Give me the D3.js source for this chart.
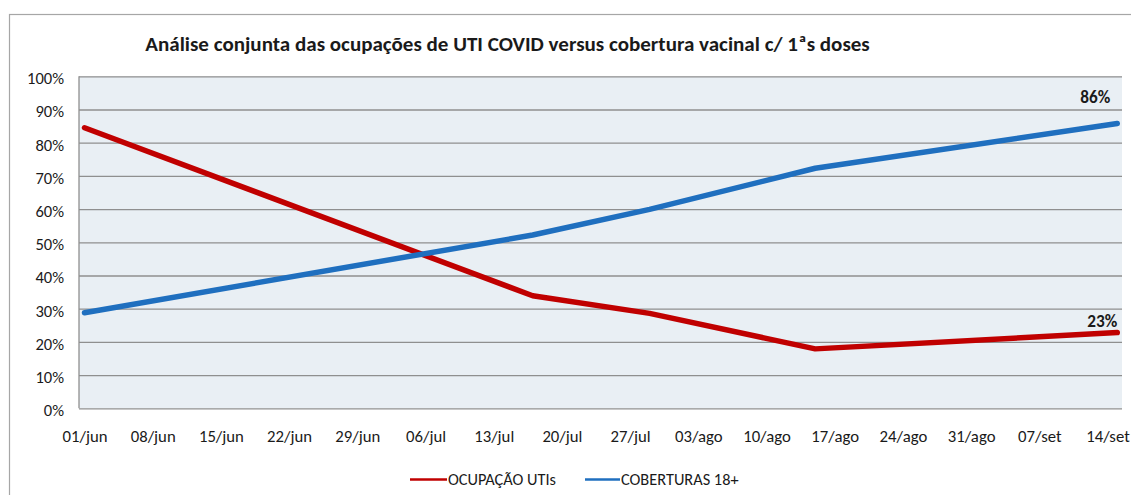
<!DOCTYPE html>
<html>
<head>
<meta charset="utf-8">
<script src="https://cdn.jsdelivr.net/npm/d3@7"></script>
<style>
  html, body { margin: 0; padding: 0; background: #ffffff; }
  svg { display: block; }
  text { font-family: Carlito, Calibri, Lato, "Open Sans", sans-serif; fill: #1a1a1a; }
</style>
</head>
<body>
<svg id="chart" width="1131" height="495"></svg>
<script>
// ---- data ----
const titleText = "Análise conjunta das ocupações de UTI COVID versus cobertura vacinal c/ 1ªs doses";
const seriesNames = ["OCUPAÇÃO UTIs", "COBERTURAS 18+"];
const pointDates = ["01/jun", "17/jul", "29/jul", "15/ago", "15/set"];
const ocupacaoUTIs = [84.5, 33.9, 28.6, 17.9, 22.8];
const coberturas18 = [28.8, 52.2, 59.9, 72.3, 85.8];
const xTickLabels = ["01/jun","08/jun","15/jun","22/jun","29/jun","06/jul","13/jul","20/jul",
                     "27/jul","03/ago","10/ago","17/ago","24/ago","31/ago","07/set","14/set"];
const yTickValues = [0,10,20,30,40,50,60,70,80,90,100];
const endLabels = ["23%", "86%"];
const seriesColors = ["#c00000", "#1f6fbf"];

// ---- helpers ----
const monthIdx = { jun: 5, jul: 6, ago: 7, set: 8 };
function parseDM(s) {
  const [d, m] = s.split("/");
  return new Date(2021, monthIdx[m], +d);
}

const svg = d3.select("#chart");

// font size that makes `sample` about `target` px wide
function fitSize(sample, target, weight) {
  const t = svg.append("text").style("font-size", "20px")
    .style("font-weight", weight || "normal").text(sample);
  const w = t.node().getComputedTextLength();
  t.remove();
  return 20 * target / w;
}
const yFont = fitSize("100%", 37, "normal");
const xFont = fitSize("01/jun", 45, "normal");
const legFont = fitSize("OCUPAÇÃO UTIs", 108, "normal");
const lblFont = fitSize("86%", 30, "bold");
const titleFont = fitSize(titleText, 725, "bold");

// outer chart frame
svg.append("rect")
  .attr("x", 9.5).attr("y", 14.5).attr("width", 1140).attr("height", 500)
  .attr("fill", "#ffffff").attr("stroke", "#a6a6a6").attr("stroke-width", 1.2);

// plot area
const plot = { left: 79, right: 1122, top: 76.3, bottom: 408.3 };

const x = d3.scaleTime()
  .domain([parseDM("01/jun"), parseDM("15/set")])
  .range([84.5, 84.5 + 106 * 9.743]);
const y = d3.scaleLinear().domain([0, 100]).range([plot.bottom, plot.top]);

svg.append("rect")
  .attr("x", plot.left).attr("y", plot.top)
  .attr("width", plot.right - plot.left).attr("height", plot.bottom - plot.top)
  .attr("fill", "#e9eff4");

// gridlines via axis
const yGrid = svg.append("g")
  .attr("transform", `translate(${plot.left},0)`)
  .call(d3.axisRight(y).tickValues(yTickValues).tickSize(plot.right - plot.left).tickFormat(""));
yGrid.select(".domain").remove();
yGrid.selectAll("line").attr("stroke", "#8f8f8f").attr("stroke-width", 1.3);

// left axis line
svg.append("line")
  .attr("x1", plot.left).attr("x2", plot.left)
  .attr("y1", plot.top).attr("y2", plot.bottom)
  .attr("stroke", "#8f8f8f").attr("stroke-width", 1.3);

// y axis labels
const yAxis = svg.append("g")
  .attr("transform", `translate(${plot.left - 15},0)`)
  .call(d3.axisLeft(y).tickValues(yTickValues).tickSize(0).tickFormat(d => d + "%"));
yAxis.select(".domain").remove();
yAxis.selectAll("text")
  .attr("x", 0).attr("dy", "0.45em")
  .style("font-size", yFont + "px").style("fill", "#1a1a1a");

// x axis labels
const xAxis = svg.append("g")
  .attr("transform", `translate(0,441.5)`)
  .call(d3.axisBottom(x).tickValues(xTickLabels.map(parseDM)).tickSize(0)
        .tickFormat((d, i) => xTickLabels[i]));
xAxis.select(".domain").remove();
xAxis.selectAll("text")
  .attr("y", 0).attr("dy", "0")
  .style("font-size", xFont + "px").style("fill", "#1a1a1a");

// lines
const allSeries = [ocupacaoUTIs, coberturas18];
const line = d3.line()
  .x((d, i) => x(parseDM(pointDates[i])))
  .y(d => y(d));
allSeries.forEach((vals, k) => {
  svg.append("path")
    .datum(vals)
    .attr("d", line)
    .attr("fill", "none")
    .attr("stroke", seriesColors[k])
    .attr("stroke-width", 5.5)
    .attr("stroke-linejoin", "round")
    .attr("stroke-linecap", "round");
});

// end labels
const lastIdx = pointDates.length - 1;
svg.append("text")
  .attr("x", x(parseDM(pointDates[lastIdx])) - 15)
  .attr("y", y(ocupacaoUTIs[lastIdx]) - 6)
  .attr("text-anchor", "middle")
  .style("font-size", lblFont + "px").style("font-weight", "bold")
  .text(endLabels[0]);
svg.append("text")
  .attr("x", x(parseDM(pointDates[lastIdx])) - 22)
  .attr("y", y(coberturas18[lastIdx]) - 20)
  .attr("text-anchor", "middle")
  .style("font-size", lblFont + "px").style("font-weight", "bold")
  .text(endLabels[1]);

// title
svg.append("text")
  .attr("x", 507.5).attr("y", 51)
  .attr("text-anchor", "middle")
  .style("font-size", titleFont + "px").style("font-weight", "bold")
  .text(titleText);

// legend
const legendItems = [
  { x1: 410, x2: 447, tx: 448, name: seriesNames[0], color: seriesColors[0] },
  { x1: 585, x2: 620, tx: 621, name: seriesNames[1], color: seriesColors[1] }
];
legendItems.forEach(it => {
  svg.append("line")
    .attr("x1", it.x1).attr("x2", it.x2).attr("y1", 479.5).attr("y2", 479.5)
    .attr("stroke", it.color).attr("stroke-width", 2.5);
  svg.append("text")
    .attr("x", it.tx).attr("y", 485)
    .style("font-size", legFont + "px")
    .text(it.name);
});
</script>
</body>
</html>
